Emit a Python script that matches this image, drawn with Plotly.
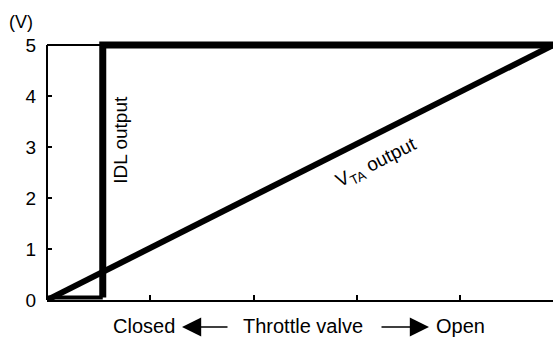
import plotly.graph_objects as go

# Throttle position sensor outputs versus throttle valve opening
x_max = 4.9          # fully open (axis units)
v_max = 5            # supply voltage (V)
idl_switch_x = 0.54  # throttle position where the IDL contact opens
idl_low = 0.05       # IDL output while closed (V)

vta_x = [0, x_max]
vta_y = [0, v_max]

idl_low_x = [0, idl_switch_x]
idl_low_y = [idl_low, idl_low]
idl_high_x = [idl_switch_x, idl_switch_x, x_max]
idl_high_y = [idl_low, v_max, v_max]

y_ticks = [0, 1, 2, 3, 4, 5]
x_ticks = [1, 2, 3, 4]

FONT = "Liberation Sans, Arial, sans-serif"
INK = "black"

fig = go.Figure()

# thin top edge over the closed region
fig.add_trace(go.Scatter(x=[0, idl_switch_x], y=[v_max, v_max], mode="lines",
                         line=dict(color=INK, width=2), hoverinfo="skip"))
# IDL output
fig.add_trace(go.Scatter(x=idl_low_x, y=idl_low_y, mode="lines",
                         line=dict(color=INK, width=4), hoverinfo="skip"))
fig.add_trace(go.Scatter(x=idl_high_x, y=idl_high_y, mode="lines",
                         line=dict(color=INK, width=7), hoverinfo="skip"))
# VTA output
fig.add_trace(go.Scatter(x=vta_x, y=vta_y, mode="lines",
                         line=dict(color=INK, width=6), hoverinfo="skip"))

# left axis line, ending at full scale
fig.add_shape(type="line", xref="paper", yref="y", x0=0, x1=0, y0=0, y1=v_max,
              line=dict(color=INK, width=2))

fig.add_annotation(text="IDL output", x=0.71, y=3.15, xref="x", yref="y",
                   showarrow=False, textangle=-90,
                   font=dict(family=FONT, size=19, color=INK))
fig.add_annotation(text="V<sub>TA</sub> output", x=3.2, y=2.68, xref="x", yref="y",
                   showarrow=False, textangle=-26.7,
                   font=dict(family=FONT, size=19, color=INK))

# caption placement in pixels, converted to paper coordinates
W, H = 555, 337
L, R, T, B = 47, 2, 40, 37
def px(xp):
    return (xp - L) / (W - L - R)
def py(yp):
    return (H - B - yp) / (H - T - B)

fig.add_annotation(text="(V)", x=px(21), y=py(22), xref="paper", yref="paper",
                   xanchor="center", yanchor="middle",
                   showarrow=False, font=dict(family=FONT, size=18, color=INK))

# x-axis caption: Closed <-- Throttle valve --> Open
cap_y = 326
for label, cx in [("Closed", 144), ("Throttle valve", 303), ("Open", 460)]:
    fig.add_annotation(text=label, x=px(cx), y=py(cap_y), xref="paper", yref="paper",
                       xanchor="center", yanchor="middle", showarrow=False,
                       font=dict(family=FONT, size=20, color=INK))
# arrows
for head_x, tail_dx in [(182, 47), (429, -49)]:
    fig.add_annotation(x=px(head_x), y=py(cap_y + 1), ax=tail_dx, ay=0,
                       xref="paper", yref="paper", axref="pixel", ayref="pixel",
                       text="", showarrow=True, arrowhead=2, arrowsize=2.4,
                       arrowwidth=1.6, arrowcolor=INK)

fig.update_layout(
    width=W, height=H,
    margin=dict(l=L, r=R, t=T, b=B),
    paper_bgcolor="white", plot_bgcolor="white",
    showlegend=False,
    font=dict(family=FONT, size=19, color=INK),
    xaxis=dict(range=[0, x_max], tickvals=x_ticks, ticktext=["" for _ in x_ticks],
               ticks="inside", ticklen=5, tickwidth=2, tickcolor=INK,
               showline=True, linecolor=INK, linewidth=2,
               showgrid=False, zeroline=False, fixedrange=True),
    yaxis=dict(range=[0, 5.1], tickvals=y_ticks,
               ticks="inside", ticklen=5, tickwidth=2, tickcolor=INK,
               ticklabelstandoff=10,
               showline=False, showgrid=False, zeroline=False, fixedrange=True,
               tickfont=dict(family=FONT, size=19, color=INK)),
)

fig.write_html("out.html")
